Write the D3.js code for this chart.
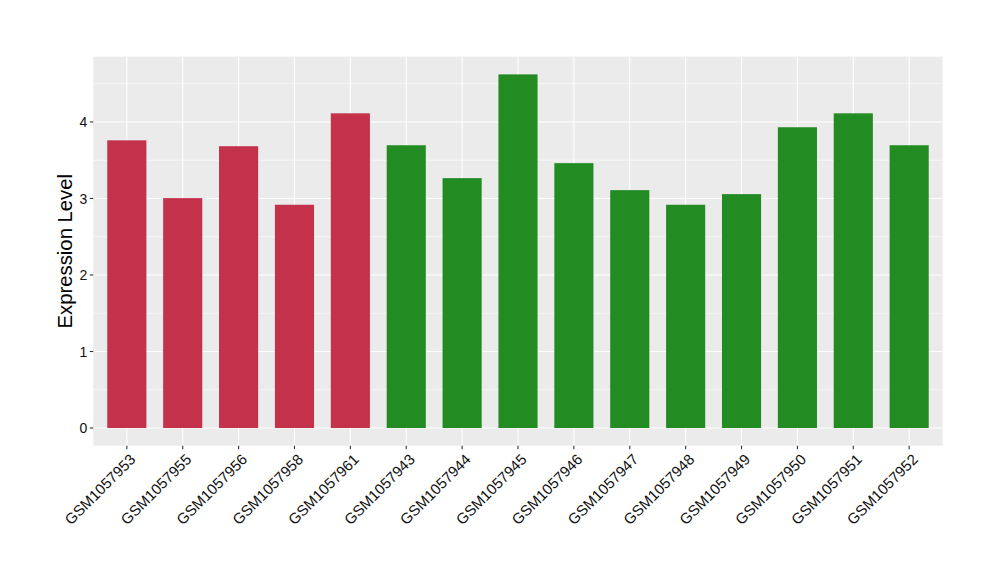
<!DOCTYPE html>
<html><head><meta charset="utf-8">
<script src="https://cdn.jsdelivr.net/npm/d3@7"></script>
<style>body{margin:0;background:#fff}svg{display:block}text{font-family:"Liberation Sans",Arial,Helvetica,sans-serif}</style>
</head><body>
<script>
const samples = ["GSM1057953","GSM1057955","GSM1057956","GSM1057958","GSM1057961","GSM1057943","GSM1057944","GSM1057945","GSM1057946","GSM1057947","GSM1057948","GSM1057949","GSM1057950","GSM1057951","GSM1057952"];
const values = [3.76,3.005,3.683,2.918,4.113,3.696,3.266,4.622,3.462,3.109,2.918,3.057,3.931,4.113,3.696];
const groups = ["A","A","A","A","A","B","B","B","B","B","B","B","B","B","B"];
const yTicks = [0,1,2,3,4];
const yMinor = [0.5,1.5,2.5,3.5,4.5];
const colors = {A:"#C3314A", B:"#228B22"};

const W=1000,H=580;
const L=93.3,R=942.7,T=56.7,B=445.7;
const svg=d3.select("body").append("svg").attr("width",W).attr("height",H);
const vmax=d3.max(values);
const y=d3.scaleLinear().domain([-0.05*vmax,1.05*vmax]).range([B,T]);
const n=samples.length, step=(R-L)/(n-1+1.2);
const cx=d3.scalePoint().domain(samples).range([L+0.6*step, R-0.6*step]);
const bw=0.7*step;

svg.append("rect").attr("x",L).attr("y",T).attr("width",R-L).attr("height",B-T).attr("fill","#EBEBEB");
svg.append("g").selectAll("line").data(yMinor).join("line")
  .attr("x1",L).attr("x2",R).attr("y1",d=>y(d)).attr("y2",d=>y(d))
  .attr("stroke","#fff").attr("stroke-width",0.55);
svg.append("g").selectAll("line").data(yTicks).join("line")
  .attr("x1",L).attr("x2",R).attr("y1",d=>y(d)).attr("y2",d=>y(d))
  .attr("stroke","#fff").attr("stroke-width",1.1);
svg.append("g").selectAll("line").data(samples).join("line")
  .attr("x1",d=>cx(d)).attr("x2",d=>cx(d)).attr("y1",T).attr("y2",B)
  .attr("stroke","#fff").attr("stroke-width",1.1);

svg.append("g").selectAll("rect").data(samples).join("rect")
  .attr("x",d=>cx(d)-bw/2).attr("width",bw)
  .attr("y",(d,i)=>y(values[i])).attr("height",(d,i)=>y(0)-y(values[i]))
  .attr("fill",(d,i)=>colors[groups[i]]);

const ya=svg.append("g");
ya.selectAll("line").data(yTicks).join("line")
  .attr("x1",L-3.5).attr("x2",L).attr("y1",d=>y(d)).attr("y2",d=>y(d))
  .attr("stroke","#333").attr("stroke-width",1.1);
ya.selectAll("text").data(yTicks).join("text")
  .attr("x",L-6).attr("y",d=>y(d)).attr("dy","0.36em").attr("text-anchor","end")
  .attr("font-size",14).attr("fill","#111").text(d=>d);
const xa=svg.append("g");
xa.selectAll("line").data(samples).join("line")
  .attr("x1",d=>cx(d)).attr("x2",d=>cx(d)).attr("y1",B).attr("y2",B+3.5)
  .attr("stroke","#333").attr("stroke-width",1.1);
xa.selectAll("text").data(samples).join("text")
  .attr("transform",d=>`translate(${cx(d)+2},${B+7}) rotate(-45)`)
  .attr("text-anchor","end").attr("dy","0.72em")
  .attr("font-size",15).attr("fill","#111").text(d=>d);

svg.append("text").attr("transform",`translate(72,${(T+B)/2}) rotate(-90)`)
  .attr("text-anchor","middle").attr("font-size",20.3).attr("fill","#000").text("Expression Level");
</script>
</body></html>
